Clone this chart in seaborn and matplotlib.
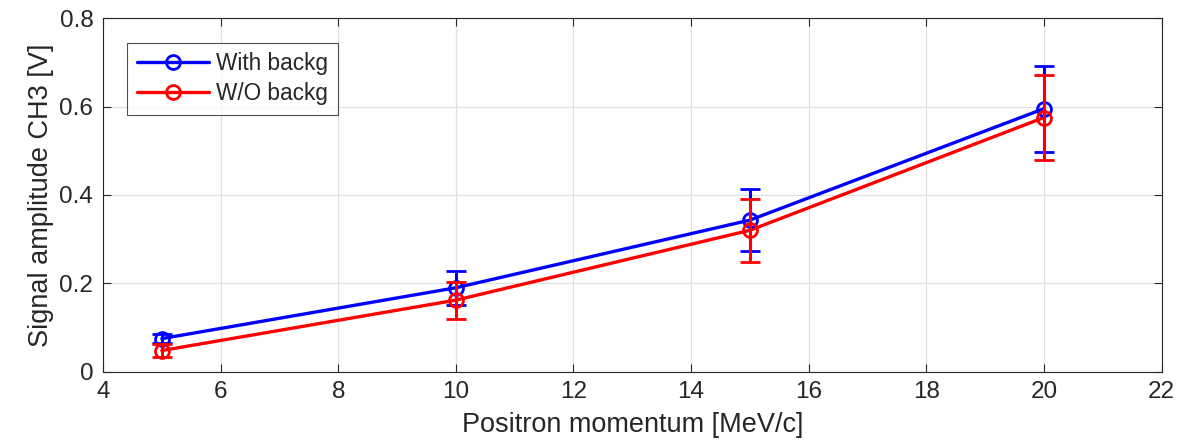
import numpy as np
import pandas as pd
import matplotlib
matplotlib.use("Agg")
import matplotlib.pyplot as plt
import seaborn as sns
from matplotlib.lines import Line2D

momentum = [5, 10, 15, 20]
amp_with_backg = [0.075, 0.19, 0.343, 0.595]
err_with_backg = [0.010, 0.038, 0.070, 0.097]
amp_without_backg = [0.048, 0.162, 0.320, 0.575]
err_without_backg = [0.015, 0.042, 0.071, 0.097]
series_labels = ["With backg", "W/O backg"]
series_colors = ["#0000ff", "#ff0000"]

sns.set_style("ticks")
plt.rcParams["font.family"] = ["Liberation Sans", "DejaVu Sans"]

df = pd.DataFrame({
    "momentum": momentum * 2,
    "amp": amp_with_backg + amp_without_backg,
    "err": err_with_backg + err_without_backg,
    "series": [series_labels[0]] * 4 + [series_labels[1]] * 4,
})

fig = plt.figure(figsize=(11.84, 4.41), dpi=100)
ax = fig.add_axes([0.087, 0.157, 0.894, 0.802])

palette = dict(zip(series_labels, series_colors))
sns.lineplot(data=df, x="momentum", y="amp", hue="series", palette=palette,
             linewidth=2.4, ax=ax, legend=False, zorder=3)

for i, lab in enumerate(series_labels):
    sub = df[df["series"] == lab]
    ax.errorbar(sub["momentum"], sub["amp"], yerr=sub["err"], fmt="o",
                color=palette[lab], markersize=10, markerfacecolor="none",
                markeredgewidth=2, elinewidth=2.2, capsize=7, capthick=2.2,
                zorder=4 + i)

handles = [Line2D([0], [0], color=c, lw=2.4, marker="o", markersize=10,
                  markerfacecolor="none", markeredgewidth=2) for c in series_colors]
leg = ax.legend(handles, series_labels, loc="upper left",
                bbox_to_anchor=(0.023, 0.93), fontsize=16.3, frameon=True,
                fancybox=False, edgecolor="#262626", handlelength=3.2,
                borderpad=0.42, labelspacing=0.3, handletextpad=0.3,
                borderaxespad=0)
leg.get_frame().set_linewidth(0.8)
for t in leg.get_texts():
    t.set_color("#262626")

ax.set_xlim(4, 22)
ax.set_ylim(0, 0.8)
ax.set_xticks(np.arange(4, 23, 2))
ax.set_yticks(np.arange(0, 0.81, 0.2))
ax.set_yticklabels(["0", "0.2", "0.4", "0.6", "0.8"])
ax.grid(True, color="#e0e0e0", linewidth=0.9)
ax.set_axisbelow(True)
for s in ax.spines.values():
    s.set_visible(True)
    s.set_color("#262626")
    s.set_linewidth(0.8)
ax.tick_params(direction="in", length=6, width=0.8, labelsize=17.5,
               colors="#262626", top=True, right=True, pad=7)
ax.set_xlabel("Positron momentum [MeV/c]", fontsize=19.5, color="#262626", labelpad=6)
ax.set_ylabel("Signal amplitude CH3 [V]", fontsize=19.5, color="#262626", labelpad=4)

fig.savefig("out.png", dpi=100)
